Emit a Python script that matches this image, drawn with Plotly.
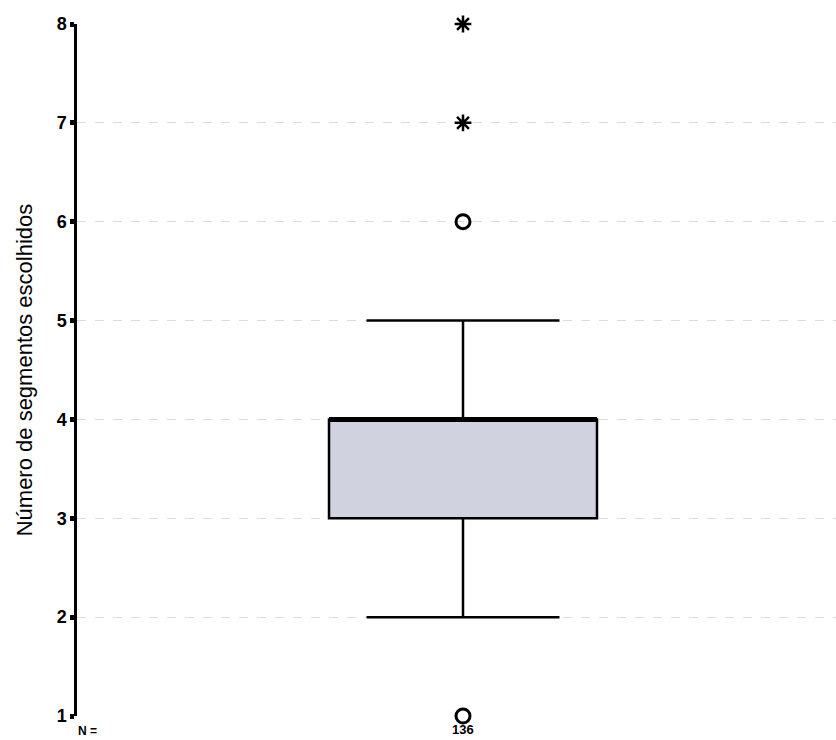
import plotly.graph_objects as go

# Summary statistics
q1 = [3]
median = [4]
q3 = [4]
lower_whisker = [2]
upper_whisker = [5]
circle_outliers = [1, 6]
extreme_outliers = [7, 8]
n_count = [136]
y_ticks = [1, 2, 3, 4, 5, 6, 7, 8]

fig = go.Figure()
fig.add_trace(go.Box(
    x=[0], q1=q1, median=median, q3=q3,
    lowerfence=lower_whisker, upperfence=upper_whisker,
    width=268, whiskerwidth=0.72,
    fillcolor="#d0d2df", line=dict(color="black", width=2.5),
    boxpoints=False, showlegend=False, hoverinfo="skip",
))
# thick median line
fig.add_trace(go.Scatter(
    x=[-134, 134], y=[median[0], median[0]], mode="lines",
    line=dict(color="black", width=5), showlegend=False, hoverinfo="skip",
))
fig.add_trace(go.Scatter(
    x=[0] * len(circle_outliers), y=circle_outliers, mode="markers",
    marker=dict(symbol="circle-open", size=14, color="black", line=dict(width=3)),
    cliponaxis=False, showlegend=False,
))
fig.add_trace(go.Scatter(
    x=[0] * len(extreme_outliers), y=extreme_outliers, mode="markers",
    marker=dict(symbol="asterisk-open", size=14, color="black", line=dict(width=2.5)),
    cliponaxis=False, showlegend=False,
))

fig.add_annotation(x=0, y=0, xref="x", yref="paper", yshift=-4, yanchor="top",
                   text="<b>%d</b>" % n_count[0], showarrow=False,
                   font=dict(size=13, color="black", family="Liberation Sans"))
fig.add_annotation(x=0, y=0, xref="paper", yref="paper", xshift=10, yshift=-6,
                   xanchor="center", yanchor="top",
                   text="<b>N =</b>", showarrow=False,
                   font=dict(size=12, color="black", family="Liberation Sans"))

fig.update_layout(
    width=836, height=740,
    margin=dict(l=77, r=0, t=24, b=24),
    plot_bgcolor="white", paper_bgcolor="white",
    font=dict(family="Liberation Sans", color="black"),
    xaxis=dict(range=[-386, 373], showgrid=False, zeroline=False,
               showticklabels=False, showline=False, ticks=""),
    yaxis=dict(range=[1, 8], tickvals=y_ticks, ticktext=["<b>%d</b>" % v for v in y_ticks],
               showgrid=True,
               gridcolor="#dcdcdc", griddash="dash", gridwidth=1.2,
               zeroline=False, showline=True, linecolor="black", linewidth=2.5,
               ticks="outside", ticklen=4, tickwidth=5, tickcolor="black",
               tickfont=dict(size=18, color="black", family="Liberation Sans"),
               title=dict(text="Número de segmentos escolhidos",
                          font=dict(size=22, color="black"), standoff=18)),
)

fig.write_html("out.html", config={"displayModeBar": False},
               post_script="document.body.style.margin='0';document.body.style.overflow='hidden';")
